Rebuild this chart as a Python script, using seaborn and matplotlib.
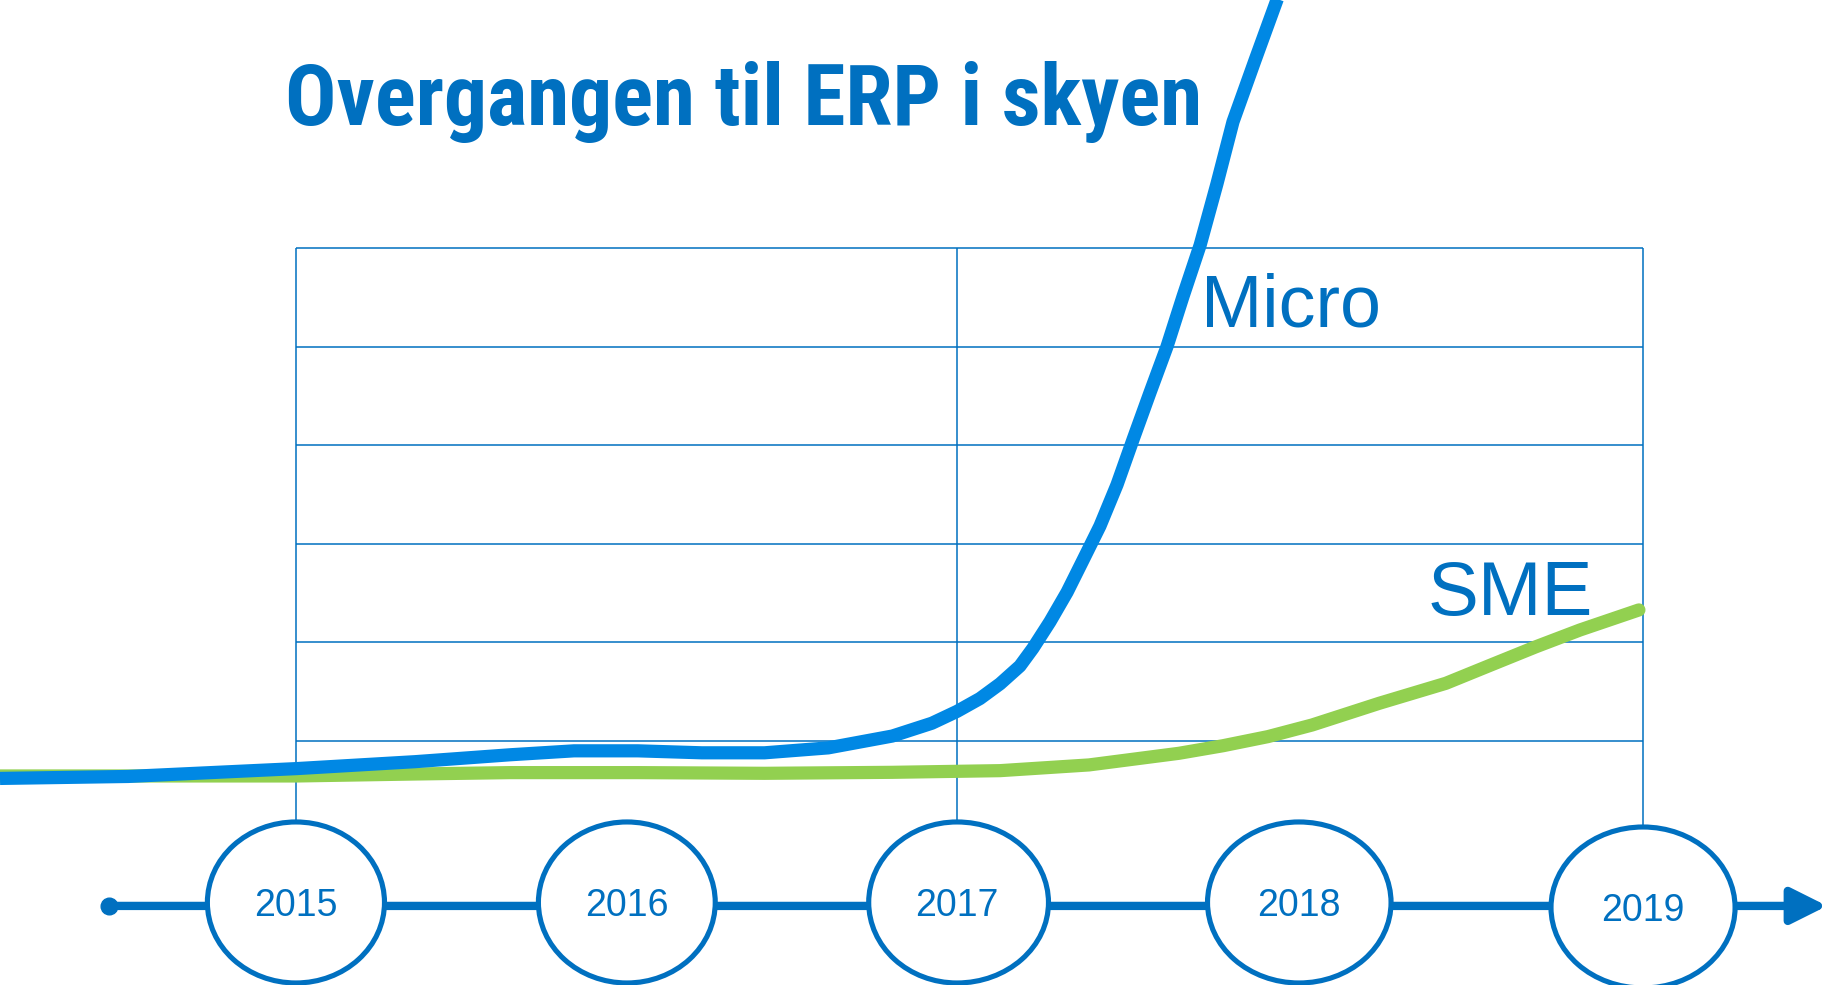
import numpy as np
import matplotlib
matplotlib.use('Agg')
import matplotlib.pyplot as plt
from matplotlib import font_manager
from matplotlib.patches import Ellipse
import seaborn as sns

# data
years = [2015, 2016, 2017, 2018, 2019]
grid_years = [2015, 2017, 2019]
grid_rows = [0, 1, 2, 3, 4, 5]

micro_x = [2014.106, 2014.493, 2015.003, 2015.360, 2015.647, 2015.840, 2016.033, 2016.227,
           2016.417, 2016.610, 2016.804, 2016.924, 2017.000, 2017.067, 2017.126, 2017.184,
           2017.222, 2017.272, 2017.322, 2017.368, 2017.418, 2017.468, 2017.515, 2017.564,
           2017.614, 2017.661, 2017.711, 2017.760, 2017.807, 2017.871, 2017.936, 2017.965]
micro_y = [-0.38, -0.36, -0.28, -0.21, -0.14, -0.10, -0.10, -0.12,
           -0.12, -0.07, 0.05, 0.18, 0.30, 0.43, 0.58, 0.76,
           0.94, 1.21, 1.51, 1.83, 2.18, 2.60, 3.06, 3.53,
           4.00, 4.51, 5.03, 5.65, 6.28, 6.90, 7.52, 7.80]

sme_x = [2014.106, 2015.003, 2015.360, 2015.647, 2016.033, 2016.417, 2016.804, 2017.126,
         2017.386, 2017.649, 2017.778, 2017.909, 2018.038, 2018.233, 2018.427, 2018.558,
         2018.689, 2018.817, 2018.988]
sme_y = [-0.355, -0.355, -0.335, -0.321, -0.321, -0.328, -0.318, -0.301,
         -0.243, -0.125, -0.048, 0.044, 0.162, 0.382, 0.585, 0.771,
         0.956, 1.126, 1.329]

title = 'Overgangen til ERP i skyen'
BLUE = '#0070C0'
MICRO_C = '#0088E4'
SME_C = '#92D050'

# the year circles in the slide are not evenly spaced: piecewise x scale
year_px = [296, 627, 957, 1299, 1643]


def fwd(v):
    v = np.asarray(v, dtype=float)
    out = np.interp(v, years, year_px)
    lo_s = (year_px[1] - year_px[0]) / (years[1] - years[0])
    hi_s = (year_px[-1] - year_px[-2]) / (years[-1] - years[-2])
    out = np.where(v < years[0], year_px[0] + (v - years[0]) * lo_s, out)
    out = np.where(v > years[-1], year_px[-1] + (v - years[-1]) * hi_s, out)
    return out


def inv(p):
    p = np.asarray(p, dtype=float)
    out = np.interp(p, year_px, years)
    lo_s = (year_px[1] - year_px[0]) / (years[1] - years[0])
    hi_s = (year_px[-1] - year_px[-2]) / (years[-1] - years[-2])
    out = np.where(p < year_px[0], years[0] + (p - year_px[0]) / lo_s, out)
    out = np.where(p > year_px[-1], years[-1] + (p - year_px[-1]) / hi_s, out)
    return out


sns.set_style('white')
names = {f.name for f in font_manager.fontManager.ttflist}
plt.rcParams['font.family'] = ['Liberation Sans', 'DejaVu Sans']
narrow = [n for n in ['Liberation Sans Narrow', 'Roboto Condensed', 'DejaVu Sans Condensed'] if n in names]
title_font = narrow[0] if narrow else 'Liberation Sans'

fig = plt.figure(figsize=(18.24, 9.85), dpi=100)
ax = fig.add_axes([0, 0, 1, 1])
ax.set_xscale('function', functions=(fwd, inv))
ax.set_xlim(2014.106, 2019.526)
ax.set_ylim(-2.475, 7.515)
ax.axis('off')

tl_y = -1.673

# grid
for r in grid_rows:
    ax.hlines(r, 2015, 2019, color=BLUE, lw=1.1, zorder=1)
for yr in grid_years:
    ax.vlines(yr, tl_y, 5, color=BLUE, lw=1.1, zorder=1)

# curves
sns.lineplot(x=sme_x, y=sme_y, color=SME_C, linewidth=9.5, ax=ax, zorder=2,
             solid_capstyle='round', solid_joinstyle='round')
sns.lineplot(x=micro_x, y=micro_y, color=MICRO_C, linewidth=9.5, ax=ax, zorder=3,
             solid_capstyle='butt', solid_joinstyle='round')

# timeline
ax.annotate('', xy=(2019.535, tl_y), xytext=(2014.435, tl_y),
            arrowprops=dict(arrowstyle='-|>', color=BLUE, lw=6, mutation_scale=54,
                            shrinkA=0, shrinkB=0), zorder=3, annotation_clip=False)
ax.plot([2014.435], [tl_y], 'o', ms=12, color=BLUE, zorder=3)

for yr in years:
    cy = -1.689 if yr == 2019 else -1.638
    ax.add_patch(Ellipse((yr, cy), 0.535, 1.633, fc='white', ec=BLUE, lw=3.7, zorder=4))
    ax.text(yr, cy - 0.137, str(yr), ha='center', va='baseline', fontsize=27,
            color=BLUE, zorder=5)

ax.text(2017.713, 4.20, 'Micro', fontsize=53, color=BLUE, va='baseline', zorder=5)
ax.text(2018.375, 1.278, 'SME', fontsize=55, color=BLUE, va='baseline', zorder=5)

ax.text(2014.968, 6.25, title, fontsize=61.5, fontweight='bold', color=BLUE,
        family=[title_font, 'DejaVu Sans'], va='baseline', zorder=5)

fig.savefig('out.png', dpi=100, facecolor='white')
